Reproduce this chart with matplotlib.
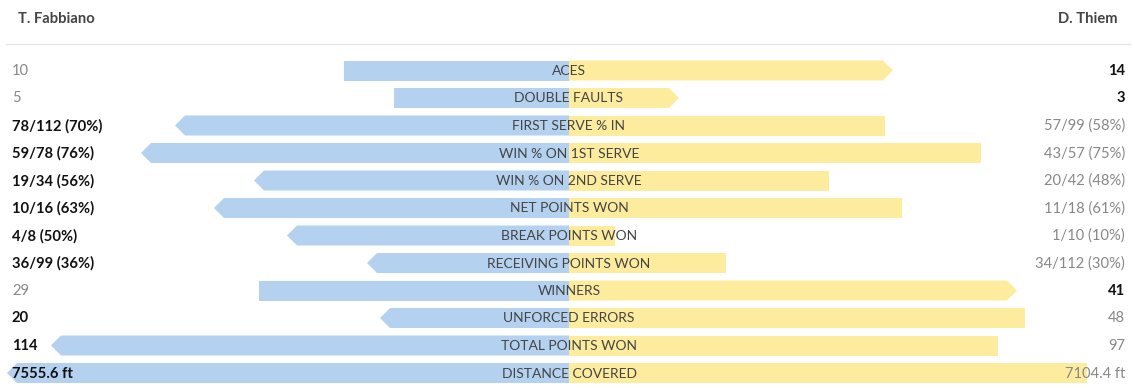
import matplotlib
matplotlib.use("Agg")
import matplotlib.pyplot as plt
from matplotlib.patches import Polygon

plt.rcParams['font.family'] = ['Lato', 'DejaVu Sans']

player_left = "T. Fabbiano"
player_right = "D. Thiem"

categories = ["ACES", "DOUBLE FAULTS", "FIRST SERVE % IN", "WIN % ON 1ST SERVE",
              "WIN % ON 2ND SERVE", "NET POINTS WON", "BREAK POINTS WON",
              "RECEIVING POINTS WON", "WINNERS", "UNFORCED ERRORS",
              "TOTAL POINTS WON", "DISTANCE COVERED"]
left_labels = ["10", "5", "78/112 (70%)", "59/78 (76%)", "19/34 (56%)", "10/16 (63%)",
               "4/8 (50%)", "36/99 (36%)", "29", "20", "114", "7555.6 ft"]
right_labels = ["14", "3", "57/99 (58%)", "43/57 (75%)", "20/42 (48%)", "11/18 (61%)",
                "1/10 (10%)", "34/112 (30%)", "41", "48", "97", "7104.4 ft"]
# bar lengths (same units on both sides)
left_len = [225, 175, 394, 428, 315, 355, 282, 202, 310, 189, 518, 562]
right_len = [324, 110, 316, 412, 260, 333, 46, 157, 448, 456, 429, 518]
# which side won the row (arrow + bold value): "L" or "R"
winner = ["R", "R", "L", "L", "L", "L", "L", "L", "R", "L", "L", "L"]

W, H = 1135, 388
fig = plt.figure(figsize=(W / 100, H / 100), dpi=100)
ax = fig.add_axes([0, 0, 1, 1])
ax.set_xlim(0, W)
ax.set_ylim(H, 0)
ax.axis("off")

blue = "#b4d2f0"
yellow = "#fdec9e"
center = 569
y0, dy = 70.5, 27.5
bh = 20
tip = 10

def bar(x0, length, y, direction, arrow, color):
    end = x0 + direction * length
    if arrow:
        body = end - direction * tip
        pts = [(x0, y - bh / 2), (body, y - bh / 2), (end, y), (body, y + bh / 2), (x0, y + bh / 2)]
    else:
        pts = [(x0, y - bh / 2), (end, y - bh / 2), (end, y + bh / 2), (x0, y + bh / 2)]
    ax.add_patch(Polygon(pts, closed=True, facecolor=color, edgecolor="none", zorder=1))

for i, cat in enumerate(categories):
    y = y0 + i * dy
    bar(center, left_len[i], y, -1, winner[i] == "L", blue)
    bar(center, right_len[i], y, 1, winner[i] == "R", yellow)
    ax.text(center, y + 0.5, cat, ha="center", va="center", fontsize=10, color="#444444", zorder=3)
    lw = winner[i] == "L"
    ax.text(12, y + 0.5, left_labels[i], ha="left", va="center", fontsize=10.6,
            color="#111111" if lw else "#888888", fontweight="bold" if lw else "normal", zorder=3)
    ax.text(1125, y + 0.5, right_labels[i], ha="right", va="center", fontsize=10.6,
            color="#888888" if lw else "#111111", fontweight="normal" if lw else "bold", zorder=3)

ax.text(18, 19, player_left, ha="left", va="center", fontsize=10.6, fontweight="bold", color="#444444")
ax.text(1118, 19, player_right, ha="right", va="center", fontsize=10.6, fontweight="bold", color="#444444")
ax.plot([6, 1130], [44, 44], color="#e6e6e6", lw=1)

fig.savefig("out.png", dpi=100)
